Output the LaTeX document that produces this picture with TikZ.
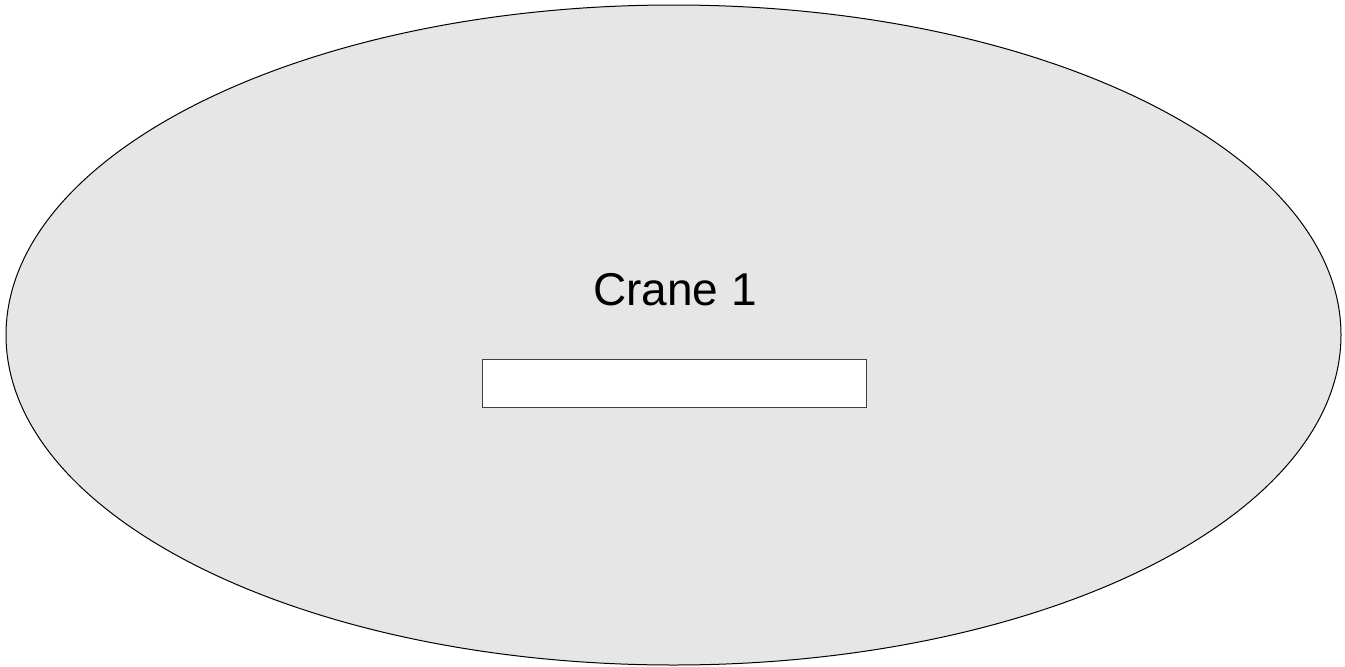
\documentclass[tikz,border=0pt]{standalone}
\usepackage{fontspec}
\setmainfont{Liberation Sans}
\definecolor{ellgray}{HTML}{E6E6E6}
\definecolor{boxedge}{HTML}{404040}
\begin{document}
\begin{tikzpicture}[x=1pt,y=-1pt,
  craneshape/.style={draw=black,fill=ellgray,line width=1pt},
  slotbox/.style={draw=boxedge,fill=white,line width=1pt},
  cranelabel/.style={font=\fontsize{46}{55}\selectfont,inner sep=0pt,anchor=base}]
\useasboundingbox (0,0) rectangle (1345,667);
\draw[craneshape] (673.5,335) ellipse [x radius=667.5, y radius=330];
\node[cranelabel] (label) at (675,305) {Crane 1};
\draw[slotbox] (482,359.5) rectangle (866,407.5);
\coordinate (slot) at (674,383.5);
\end{tikzpicture}
\end{document}
